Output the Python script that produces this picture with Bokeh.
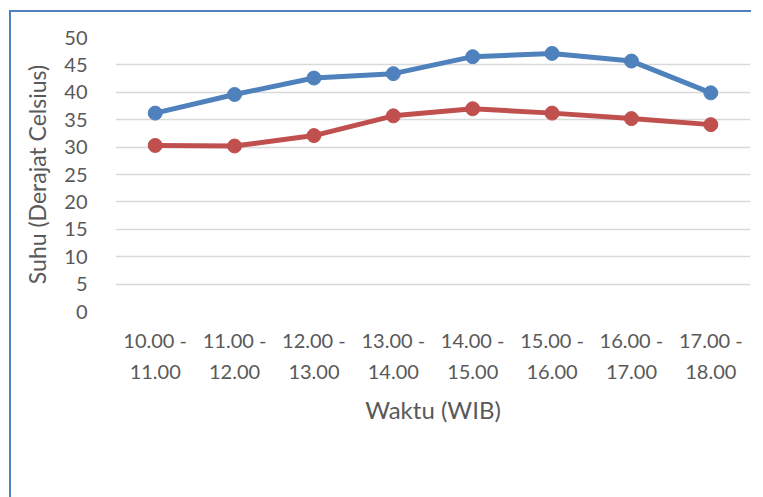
from bokeh.plotting import figure
from bokeh.models import FactorRange, Range1d, FixedTicker, Legend, LegendItem
from bokeh.embed import file_html
from bokeh.resources import INLINE

categories = ["10.00 -\n11.00", "11.00 -\n12.00", "12.00 -\n13.00", "13.00 -\n14.00",
              "14.00 -\n15.00", "15.00 -\n16.00", "16.00 -\n17.00", "17.00 -\n18.00"]
continue_vals = [36.2, 39.6, 42.6, 43.4, 46.5, 47.1, 45.7, 39.9]
delay_vals = [30.3, 30.2, 32.1, 35.7, 37.0, 36.2, 35.2, 34.1]
y_ticks = [0, 5, 10, 15, 20, 25, 30, 35, 40, 45, 50]

FONT = "Lato"
TXT = "#595959"
BLUE = "#4F81BD"
RED = "#C0504D"

p = figure(frame_width=635, frame_height=274, x_range=FactorRange(*categories), y_range=Range1d(0, 50),
           output_backend="svg", toolbar_location=None,
           min_border_left=104, min_border_right=1, min_border_top=25, min_border_bottom=0)
p.margin = (10, 0, 0, 9)
p.styles = {"border-left": "2px solid #4F81BD", "border-top": "2px solid #4F81BD"}
p.outline_line_color = None
p.background_fill_color = "white"
p.border_fill_color = "white"

p.xgrid.grid_line_color = None
p.ygrid.grid_line_color = "#D9D9D9"
p.ygrid.grid_line_width = 1.5
p.yaxis.ticker = FixedTicker(ticks=y_ticks)

for ax in (p.xaxis[0], p.yaxis[0]):
    ax.axis_line_color = None
    ax.major_tick_line_color = None
    ax.minor_tick_line_color = None
    ax.major_label_text_font = FONT
    ax.major_label_text_color = TXT
    ax.major_label_text_font_size = "20px"
    ax.axis_label_text_font = FONT
    ax.axis_label_text_color = TXT
    ax.axis_label_text_font_style = "normal"

p.yaxis.axis_label_text_font_size = "23px"
p.xaxis.axis_label_text_font_size = "24px"
p.xaxis.major_label_text_line_height = 1.3
p.yaxis.axis_label = "Suhu (Derajat Celsius)"
p.xaxis.axis_label = "Waktu (WIB)"
p.yaxis.major_label_standoff = 22
p.xaxis.major_label_standoff = 10
p.yaxis.axis_label_standoff = 10
p.xaxis.axis_label_standoff = 9

l1 = p.line(categories, continue_vals, line_color=BLUE, line_width=5)
s1 = p.scatter(categories, continue_vals, size=14, fill_color=BLUE, line_color=BLUE)
l2 = p.line(categories, delay_vals, line_color=RED, line_width=5)
s2 = p.scatter(categories, delay_vals, size=14, fill_color=RED, line_color=RED)

legend = Legend(items=[LegendItem(label="Continue", renderers=[l1, s1]),
                       LegendItem(label="Delay", renderers=[l2, s2])],
                orientation="horizontal", location="top_center")
legend.border_line_color = None
legend.background_fill_alpha = 0
legend.padding = 0
legend.margin = 26
legend.spacing = 23
legend.glyph_width = 56
legend.glyph_height = 20
legend.label_standoff = 2
legend.label_text_font = FONT
legend.label_text_color = TXT
legend.label_text_font_size = "21px"
p.add_layout(legend, "below")

open("out.html", "w").write(file_html(p, INLINE))
